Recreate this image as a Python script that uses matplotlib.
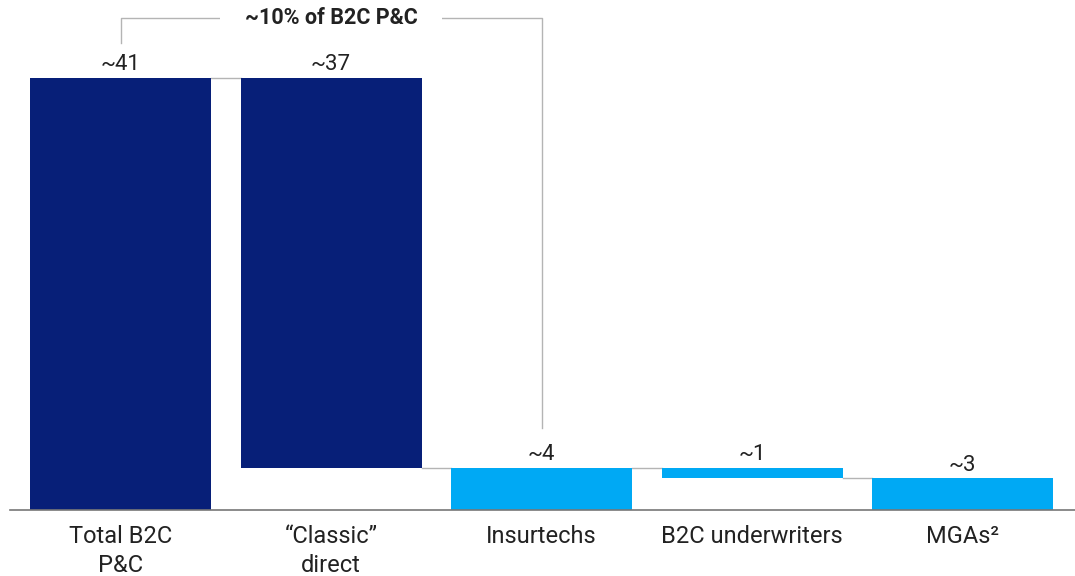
import matplotlib
matplotlib.use("Agg")
import matplotlib.pyplot as plt

plt.rcParams["font.family"] = ["Roboto", "DejaVu Sans"]

categories = ["Total B2C\nP&C", "\u201cClassic\u201d\ndirect", "Insurtechs",
              "B2C underwriters", "MGAs\u00b2"]
values = [41, 37, 4, 1, 3]
labels = ["~41", "~37", "~4", "~1", "~3"]
# bar bottoms follow the waterfall: classic sits on top of insurtechs,
# underwriters sit on top of MGAs
bottoms = [0, values[0] - values[1], 0, values[2] - values[3], 0]
bracket_text = "~10% of B2C P&C"

navy = "#071f78"
light = "#00a9f4"
colors = [navy, navy, light, light, light]
grey = "#b4b4b4"
ink = "#222222"

fig = plt.figure(figsize=(10.75, 5.76), dpi=100)
ax = fig.add_axes([10 / 1075, 66 / 576, 1065 / 1075, 510 / 576])

x = list(range(len(values)))
width = 0.86
ax.bar(x, values, bottom=bottoms, width=width, color=colors, zorder=2)

# connectors between bars
tops = [b + v for b, v in zip(bottoms, values)]
conn_levels = [tops[0], bottoms[1], tops[2], bottoms[3]]
for i, lvl in enumerate(conn_levels):
    ax.plot([i + width / 2, i + 1 - width / 2], [lvl, lvl], color=grey, lw=1, zorder=1)

# value labels
for xi, t, lab in zip(x, tops, labels):
    ax.annotate(lab, (xi, t), xytext=(0, 2), textcoords="offset points",
                ha="center", va="bottom", fontsize=16, color=ink)

# bracket from total to insurtechs
btop = tops[0] + 5.7
ax.plot([0, 0, 2, 2], [tops[0] + 3.3, btop, btop, tops[2] + 3.8],
        color=grey, lw=1, zorder=1)
ax.text(1, btop, bracket_text, ha="center", va="center", fontsize=15.5,
        fontweight="bold", color=ink,
        bbox=dict(facecolor="white", edgecolor="none", pad=18))

ax.set_xlim(-0.525, 4.534)
ax.set_ylim(0, 48.4)
ax.set_xticks(x)
ax.set_xticklabels(categories, fontsize=17, color=ink, linespacing=1.3)
ax.tick_params(axis="x", length=0, pad=11)
ax.set_yticks([])
for s in ["top", "right", "left"]:
    ax.spines[s].set_visible(False)
ax.spines["bottom"].set_color("#777777")
ax.spines["bottom"].set_linewidth(1.2)

fig.savefig("out.png", dpi=100)
